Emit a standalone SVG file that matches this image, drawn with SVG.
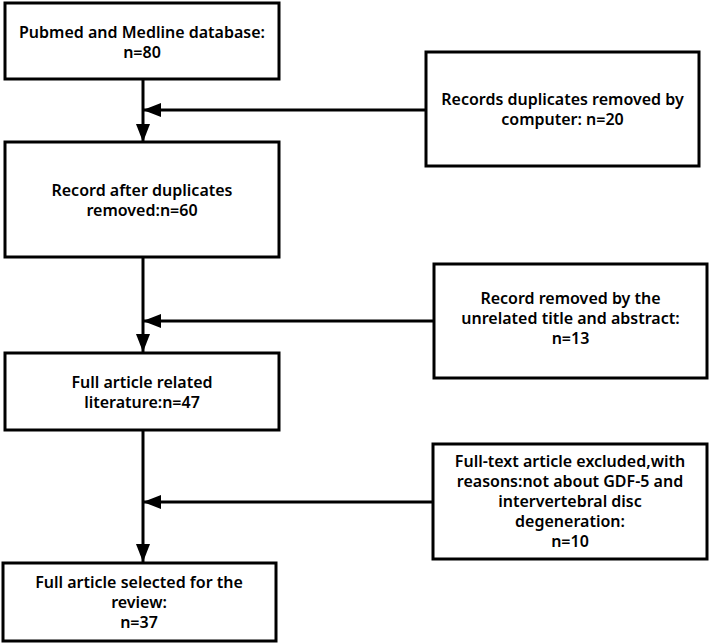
<svg xmlns="http://www.w3.org/2000/svg" width="709" height="644" viewBox="0 0 709 644">
<defs>
<style>
.box{fill:#fff;stroke:#000;stroke-width:3}
.t{font-family:"Noto Sans","Open Sans","DejaVu Sans",sans-serif;font-size:16px;font-weight:600;fill:#000;text-anchor:middle}
.c{fill:none;stroke:#000;stroke-width:3}
</style>
<marker id="ah" markerUnits="userSpaceOnUse" markerWidth="18" markerHeight="14" refX="18" refY="7" orient="auto">
<path d="M0,0 L18,7 L0,14 Z" fill="#000"/>
</marker>
</defs>
<rect width="709" height="644" fill="#fff"/>
<g id="connectors">
<line class="c" x1="143" y1="79" x2="143" y2="142" marker-end="url(#ah)"/>
<line class="c" x1="426" y1="110" x2="143" y2="110" marker-end="url(#ah)"/>
<line class="c" x1="143" y1="257" x2="143" y2="352" marker-end="url(#ah)"/>
<line class="c" x1="434" y1="321" x2="143" y2="321" marker-end="url(#ah)"/>
<line class="c" x1="143" y1="430" x2="143" y2="562" marker-end="url(#ah)"/>
<line class="c" x1="433" y1="502" x2="143" y2="502" marker-end="url(#ah)"/>
</g>
<g id="n1">
<rect class="box" x="5" y="3" width="274" height="76"/>
<text class="t" x="142" y="37.5">Pubmed and Medline database:</text>
<text class="t" x="142" y="57.5">n=80</text>
</g>
<g id="n2">
<rect class="box" x="426" y="52" width="273" height="114"/>
<text class="t" x="562.5" y="104.5">Records duplicates removed by</text>
<text class="t" x="562.5" y="124.5">computer: n=20</text>
</g>
<g id="n3">
<rect class="box" x="5" y="142" width="274" height="115"/>
<text class="t" x="142" y="195.5">Record after duplicates</text>
<text class="t" x="142" y="215.5">removed:n=60</text>
</g>
<g id="n4">
<rect class="box" x="434" y="264" width="273" height="114"/>
<text class="t" x="570.5" y="304">Record removed by the</text>
<text class="t" x="570.5" y="324">unrelated title and abstract:</text>
<text class="t" x="570.5" y="344">n=13</text>
</g>
<g id="n5">
<rect class="box" x="5" y="353" width="274" height="77"/>
<text class="t" x="142" y="387.5">Full article related</text>
<text class="t" x="142" y="407.5">literature:n=47</text>
</g>
<g id="n6">
<rect class="box" x="433" y="444" width="274" height="115"/>
<text class="t" x="570" y="467">Full-text article excluded,with</text>
<text class="t" x="570" y="487">reasons:not about GDF-5 and</text>
<text class="t" x="570" y="507">intervertebral disc</text>
<text class="t" x="570" y="527">degeneration:</text>
<text class="t" x="570" y="547">n=10</text>
</g>
<g id="n7">
<rect class="box" x="3" y="563" width="273" height="78"/>
<text class="t" x="139" y="588">Full article selected for the</text>
<text class="t" x="139" y="608">review:</text>
<text class="t" x="139" y="628">n=37</text>
</g>
</svg>
